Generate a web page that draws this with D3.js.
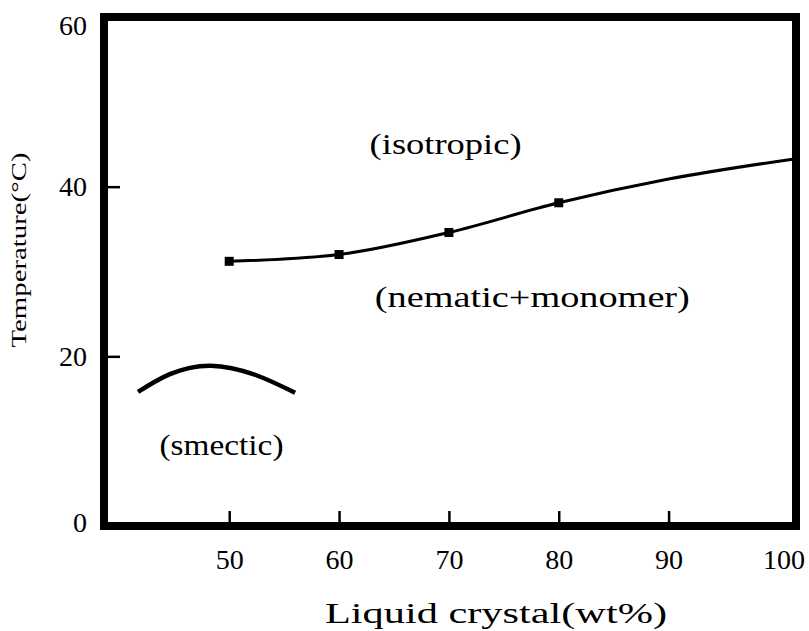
<!DOCTYPE html>
<html>
<head>
<meta charset="utf-8">
<script src="https://cdn.jsdelivr.net/npm/d3@7"></script>
<style>
  body { margin: 0; background: #fff; }
</style>
</head>
<body>
<svg width="809" height="631"></svg>
<script>
// clearing point curve (liquid crystal wt%, temperature C)
var clearX = [50, 60, 70, 80, 90, 101.6];
var clearT = [31.2, 32.0, 34.6, 38.1, 40.9, 43.3];
var markerCount = 4; // only the first four points carry squares

// smectic arc
var smecX = [41.7, 44.6, 48.3, 52.4, 56.0];
var smecT = [15.8, 17.9, 18.9, 17.8, 15.7];

var xTicks = [50, 60, 70, 80, 90, 100];
var yTicks = [0, 20, 40, 60];

var regionLabels = [
    { text: "(isotropic)", x: 69.7, t: 43.9, len: 152 },
    { text: "(nematic+monomer)", x: 77.6, t: 25.8, len: 315 },
    { text: "(smectic)", x: 49.3, t: 8.4, len: 124 }
];

var serif = "Liberation Serif";

function main() {
    var svg = d3.select("svg");
    var left = 104, right = 796, top = 17, bottom = 526;

    var x = d3.scaleLinear().domain([38.6, 101.6]).range([left, right]);
    var y = d3.scaleLinear().domain([0, 60]).range([bottom, top]);

    // x axis, ticks point inward
    var gx = svg.append("g").attr("transform", "translate(0," + bottom + ")")
        .call(d3.axisBottom(x).tickValues(xTicks).tickSize(-15).tickSizeOuter(0).tickPadding(23));
    gx.select(".domain").remove();
    gx.selectAll(".tick line").attr("stroke", "#000").attr("stroke-width", 2.5)
        .filter(function (d) { return d === 100; }).remove();
    gx.selectAll(".tick text")
        .style("font-family", serif).style("font-size", "28px")
        .attr("dx", function (d) { return d === 100 ? 5 : 0; });

    // y axis
    var gy = svg.append("g").attr("transform", "translate(" + left + ",0)")
        .call(d3.axisLeft(y).tickValues(yTicks).tickSize(-16).tickSizeOuter(0).tickPadding(17));
    gy.select(".domain").remove();
    gy.selectAll(".tick line").attr("stroke", "#000").attr("stroke-width", 2.5)
        .filter(function (d) { return d === 0 || d === 60; }).remove();
    gy.selectAll(".tick text")
        .style("font-family", serif).style("font-size", "28px")
        .attr("dy", function (d) { return d === 60 ? "0.64em" : d === 0 ? "0.18em" : "0.32em"; });

    // thick frame
    svg.append("rect")
        .attr("x", left).attr("y", top)
        .attr("width", right - left).attr("height", bottom - top)
        .attr("fill", "none").attr("stroke", "#000").attr("stroke-width", 8);

    // clearing curve
    var pts = clearX.map(function (d, i) { return [d, clearT[i]]; });
    var line = d3.line().x(function (d) { return x(d[0]); }).y(function (d) { return y(d[1]); })
        .curve(d3.curveMonotoneX);
    svg.append("path").datum(pts)
        .attr("d", line).attr("fill", "none").attr("stroke", "#000").attr("stroke-width", 3);

    svg.selectAll(".pt").data(pts.slice(0, markerCount)).enter().append("rect")
        .attr("class", "pt")
        .attr("x", function (d) { return x(d[0]) - 4.5; })
        .attr("y", function (d) { return y(d[1]) - 4.5; })
        .attr("width", 9).attr("height", 9).attr("fill", "#000");

    // smectic arc
    var arc = smecX.map(function (d, i) { return [d, smecT[i]]; });
    svg.append("path").datum(arc)
        .attr("d", d3.line().x(function (d) { return x(d[0]); }).y(function (d) { return y(d[1]); })
            .curve(d3.curveNatural))
        .attr("fill", "none").attr("stroke", "#000").attr("stroke-width", 4.5);

    // region labels
    svg.selectAll(".region").data(regionLabels).enter().append("text")
        .attr("class", "region")
        .attr("x", function (d) { return x(d.x); })
        .attr("y", function (d) { return y(d.t); })
        .attr("text-anchor", "middle")
        .style("font-family", serif).style("font-size", "30px")
        .attr("textLength", function (d) { return d.len; })
        .attr("lengthAdjust", "spacingAndGlyphs")
        .text(function (d) { return d.text; });

    // axis titles
    svg.append("text")
        .attr("x", 496).attr("y", 623)
        .attr("text-anchor", "middle")
        .style("font-family", serif).style("font-size", "30px")
        .attr("textLength", 342).attr("lengthAdjust", "spacingAndGlyphs")
        .text("Liquid crystal(wt%)");

    svg.append("text")
        .attr("transform", "translate(26,250) rotate(-90)")
        .attr("text-anchor", "middle")
        .style("font-family", serif).style("font-size", "21px")
        .attr("textLength", 195).attr("lengthAdjust", "spacingAndGlyphs")
        .text("Temperature(\u00B0C)");
}
main();
</script>
</body>
</html>
